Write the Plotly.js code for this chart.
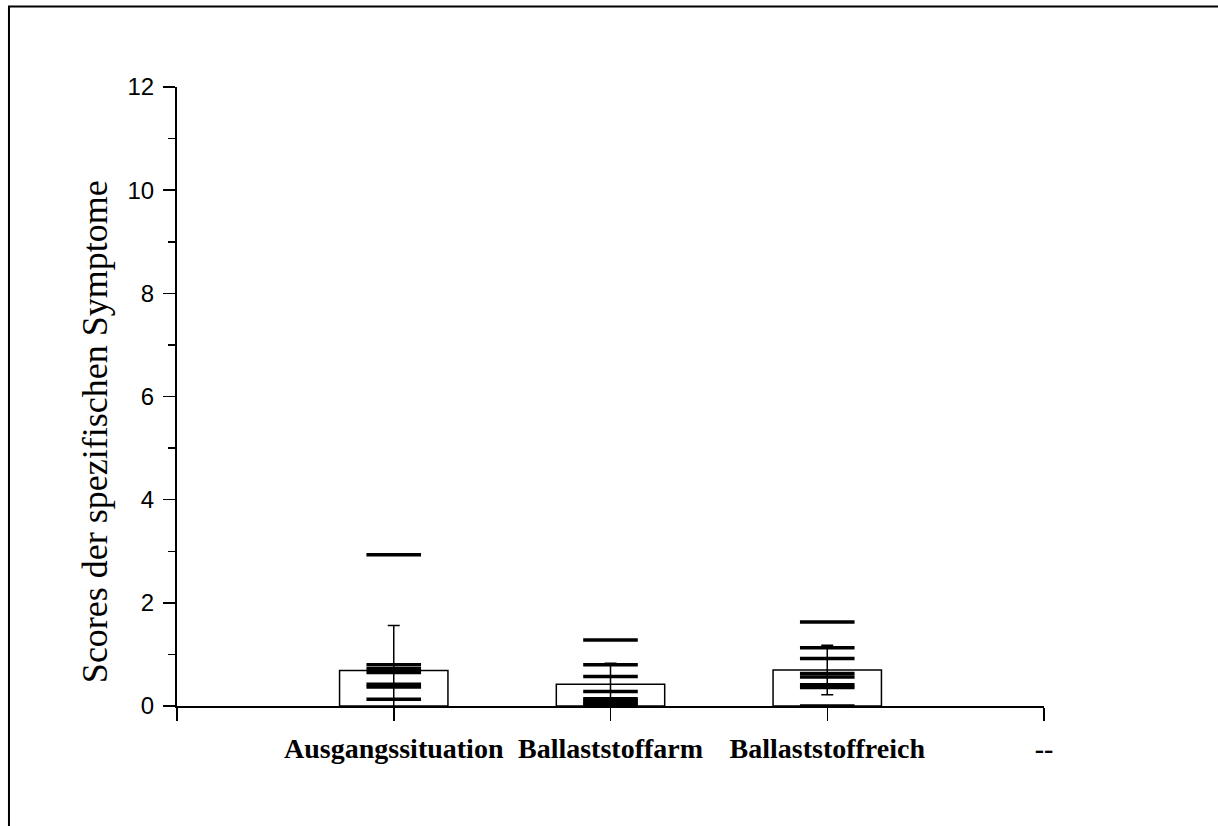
<!DOCTYPE html>
<html>
<head>
<meta charset="utf-8">
<script src="https://cdn.plot.ly/plotly-3.0.1.min.js"></script>
<style>
  html, body { margin: 0; padding: 0; background: #fff; }
  #chart { width: 1218px; height: 826px; }
</style>
</head>
<body>
<div id="chart"></div>
<script>
// Groups on the x axis (position 4 carries the placeholder label "--")
const categories = ['Ausgangssituation', 'Ballaststoffarm', 'Ballaststoffreich'];
const tickLabels = ['', 'Ausgangssituation', 'Ballaststoffarm', 'Ballaststoffreich', '--'];

// Mean score per group and its standard deviation
const means = [0.69, 0.42, 0.70];
const sds = [0.87, 0.41, 0.48];

// Individual scores per group
const ausgangScores = [2.93, 0.80, 0.72, 0.65, 0.42, 0.37, 0.13];
const armScores = [1.28, 0.80, 0.57, 0.28, 0.14, 0.10, 0.06, 0.03];
const reichScores = [1.63, 1.13, 0.92, 0.63, 0.56, 0.41, 0.36, 0.00];

const groups = [ausgangScores, armScores, reichScores];
const catPos = categories.map((_, i) => i + 1);

const barTrace = {
  type: 'bar',
  x: catPos,
  y: means,
  width: 0.5,
  marker: { color: '#ffffff', line: { color: '#000000', width: 1.5 } },
  error_y: {
    type: 'data',
    array: sds,
    visible: true,
    color: '#000000',
    thickness: 1.5,
    width: 6
  },
  hoverinfo: 'y',
  showlegend: false
};

const pointTraces = groups.map((vals, i) => ({
  type: 'scatter',
  mode: 'markers',
  x: vals.map(() => catPos[i]),
  y: vals,
  cliponaxis: false,
  marker: {
    symbol: 'line-ew',
    size: 39,
    color: '#000000',
    line: { color: '#000000', width: 3.5 }
  },
  showlegend: false,
  hoverinfo: 'y'
}));

const layout = {
  width: 1218,
  height: 826,
  paper_bgcolor: '#ffffff',
  plot_bgcolor: '#ffffff',
  margin: { l: 177, r: 174, t: 87, b: 120 },
  showlegend: false,
  xaxis: {
    range: [0, 4],
    tickmode: 'array',
    tickvals: [0, 1, 2, 3, 4],
    ticktext: tickLabels,
    showgrid: false,
    zeroline: false,
    showline: true,
    linecolor: '#000000',
    linewidth: 2,
    ticks: 'outside',
    ticklen: 13,
    tickwidth: 1.5,
    tickcolor: '#000000',
    ticklabelstandoff: 3,
    tickfont: { family: 'Liberation Serif, Times New Roman, serif', size: 28, color: '#000000', weight: 'bold' },
    fixedrange: true
  },
  yaxis: {
    range: [0, 12],
    tickmode: 'linear',
    tick0: 0,
    dtick: 2,
    showgrid: false,
    zeroline: false,
    showline: true,
    linecolor: '#000000',
    linewidth: 2,
    ticks: 'outside',
    ticklen: 12,
    tickwidth: 1.5,
    tickcolor: '#000000',
    ticklabelstandoff: 4,
    minor: { dtick: 1, ticks: 'outside', ticklen: 7, tickwidth: 1.5, tickcolor: '#000000', showgrid: false },
    tickfont: { family: 'Liberation Sans, Arial, sans-serif', size: 24, color: '#000000' },
    fixedrange: true
  },
  annotations: [{
    xref: 'paper', yref: 'paper',
    x: -0.0946, y: 0.444,
    xanchor: 'center', yanchor: 'middle',
    textangle: -90,
    showarrow: false,
    text: 'Scores der spezifischen Symptome',
    font: { family: 'Liberation Serif, Times New Roman, serif', size: 36, color: '#000000' }
  }],
  shapes: [{
    type: 'rect',
    xref: 'paper', yref: 'paper',
    x0: -0.1938, x1: 1.25,
    y0: -0.25, y1: 1.130,
    line: { color: '#000000', width: 2 },
    fillcolor: 'rgba(0,0,0,0)',
    layer: 'above'
  }]
};

Plotly.newPlot('chart', [barTrace, ...pointTraces], layout, { displayModeBar: false, staticPlot: true });
</script>
</body>
</html>
